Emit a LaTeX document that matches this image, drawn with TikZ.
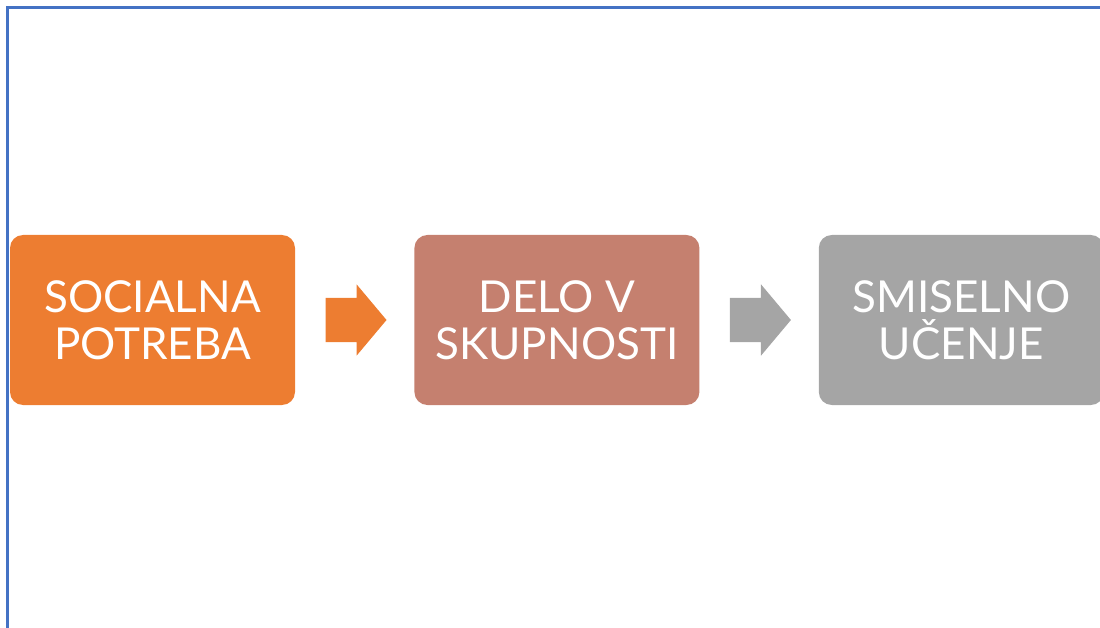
\documentclass[tikz,border=0pt]{standalone}
\usepackage{fontspec}
\setmainfont{Lato}
\usepackage{tikz}
\usetikzlibrary{shapes, positioning}
\usetikzlibrary{calc}
\usetikzlibrary{shapes.arrows}

\definecolor{frameblue}{HTML}{4472C4}
\definecolor{boxorange}{HTML}{ED7D31}
\definecolor{boxbrown}{HTML}{C5806F}
\definecolor{boxgray}{HTML}{A5A5A5}

\begin{document}
\begin{tikzpicture}[x=1pt, y=-1pt,
	stepbox/.style={rectangle, rounded corners=13pt, minimum width=285pt, minimum height=170pt,
		inner sep=0pt, text=white, align=center, font=\fontsize{44}{47}\selectfont},
	blockarrow/.style={single arrow, minimum height=61pt, inner xsep=0pt, inner ysep=22pt,
		single arrow head extend=13.5pt, single arrow tip angle=100},
	node distance=119pt]
	\useasboundingbox (0,0) rectangle (1100,628);
	
	% Draw frame lines
	\draw[frameblue, line width=2.5pt] (7.5,628) -- (7.5,7.5) -- (1100,7.5);
	
	% Draw boxes
	\node[stepbox, fill=boxorange] (socialna) at (152.5,320) {SOCIALNA\\POTREBA};
	\node[stepbox, fill=boxbrown, right=of socialna] (delo) {DELO V\\SKUPNOSTI};
	\node[stepbox, fill=boxgray, right=of delo] (ucenje) {SMISELNO\\UČENJE};
	
	% Draw arrows between boxes
	\node[blockarrow, fill=boxorange] (arrowa) at ($(socialna.east)!0.5!(delo.west)+(-8,0)$) {};
	\node[blockarrow, fill=boxgray] (arrowb) at ($(delo.east)!0.5!(ucenje.west)+(-8,0)$) {};
	
\end{tikzpicture}
\end{document}
